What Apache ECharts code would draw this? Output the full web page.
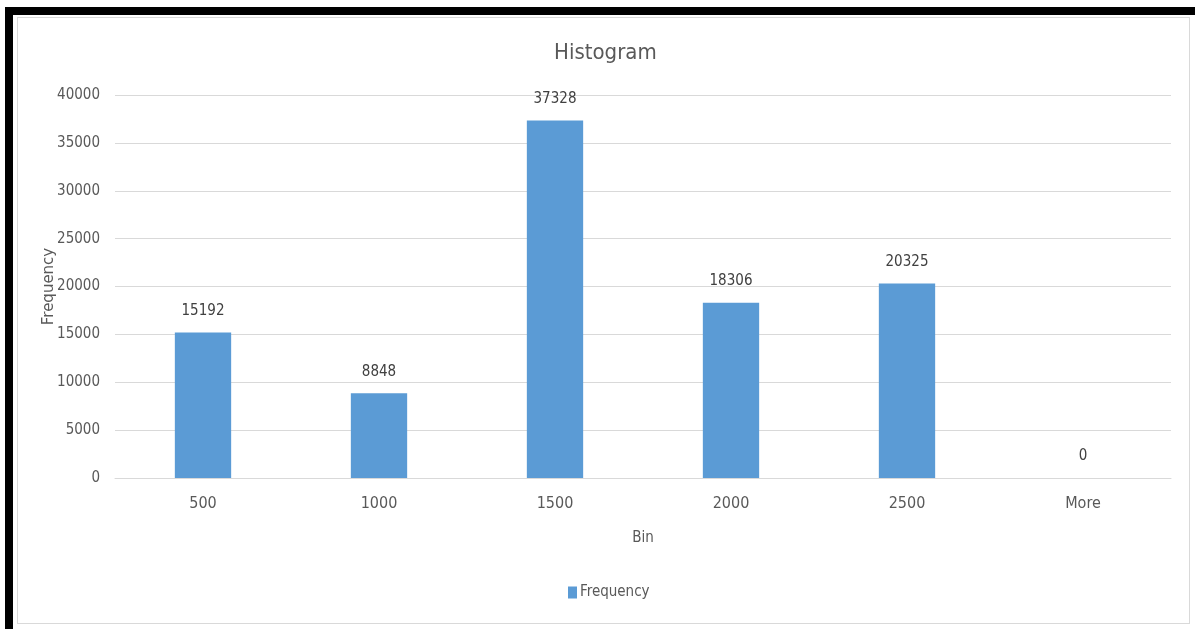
<!DOCTYPE html>
<html>
<head>
<meta charset="utf-8">
<script src="https://cdn.jsdelivr.net/npm/echarts@6/dist/echarts.min.js"></script>
<style>
  html, body { margin: 0; padding: 0; background: #fff; }
  #frame {
    position: absolute; left: 5px; top: 7px; width: 1190px; height: 622px;
    border-top: 8px solid #000; border-left: 8px solid #000; box-sizing: border-box;
  }
  #panel {
    position: absolute; left: 17px; top: 17px; width: 1173px; height: 607px;
    border: 1px solid #d9d9d9; box-sizing: border-box;
  }
  #chart { position: absolute; left: 0; top: 0; width: 1195px; height: 629px; }
</style>
</head>
<body>
<div id="frame"></div>
<div id="panel"></div>
<div id="chart"></div>
<script>
const bins = ['500', '1000', '1500', '2000', '2500', 'More'];
const frequency = [15192, 8848, 37328, 18306, 20325, 0];
const yTicks = [0, 5000, 10000, 15000, 20000, 25000, 30000, 35000, 40000];

const FONT = "'Liberation Sans Narrow', 'DejaVu Sans Condensed', sans-serif";
const TEXT = '#595959';

const chart = echarts.init(document.getElementById('chart'), null, { renderer: 'canvas' });
chart.setOption({
  backgroundColor: 'transparent',
  animation: false,
  textStyle: { fontFamily: FONT },
  title: {
    text: 'Histogram', left: 549, top: 37,
    textStyle: { fontFamily: FONT, fontSize: 22, fontWeight: 'normal', color: TEXT }
  },
  legend: {
    data: ['Frequency'], bottom: 24, left: 563,
    itemWidth: 9, itemHeight: 12, itemGap: 4,
    icon: 'rect',
    textStyle: { fontFamily: FONT, fontSize: 15, color: TEXT, padding: [0, 0, 0, -2] }
  },
  grid: { left: 115, right: 24, top: 95, bottom: 151, containLabel: false },
  xAxis: {
    type: 'category', data: bins,
    name: 'Bin', nameLocation: 'middle', nameGap: 53,
    nameTextStyle: { fontFamily: FONT, fontSize: 15, color: TEXT },
    axisLine: { lineStyle: { color: '#d9d9d9', width: 1 } },
    axisTick: { show: false },
    axisLabel: { fontFamily: FONT, fontSize: 16, color: TEXT, margin: 18 }
  },
  yAxis: {
    type: 'value', min: yTicks[0], max: yTicks[yTicks.length - 1], interval: 5000,
    name: 'Frequency', nameLocation: 'middle', nameGap: 58, nameRotate: 90,
    nameMoveOverlap: false,
    nameTextStyle: { fontFamily: "'DejaVu Sans', sans-serif", fontSize: 15, color: TEXT },
    axisLine: { show: false }, axisTick: { show: false },
    splitLine: { lineStyle: { color: '#d9d9d9', width: 1 } },
    axisLabel: {
      fontFamily: FONT, fontSize: 15, color: TEXT, margin: 15,
      formatter: v => String(v)
    }
  },
  series: [{
    name: 'Frequency', type: 'bar', data: frequency,
    barWidth: '32%',
    itemStyle: { color: '#5B9BD5' },
    label: {
      show: true, position: 'top', distance: 14,
      fontFamily: FONT, fontSize: 15, color: '#404040'
    }
  }]
});
</script>
</body>
</html>
